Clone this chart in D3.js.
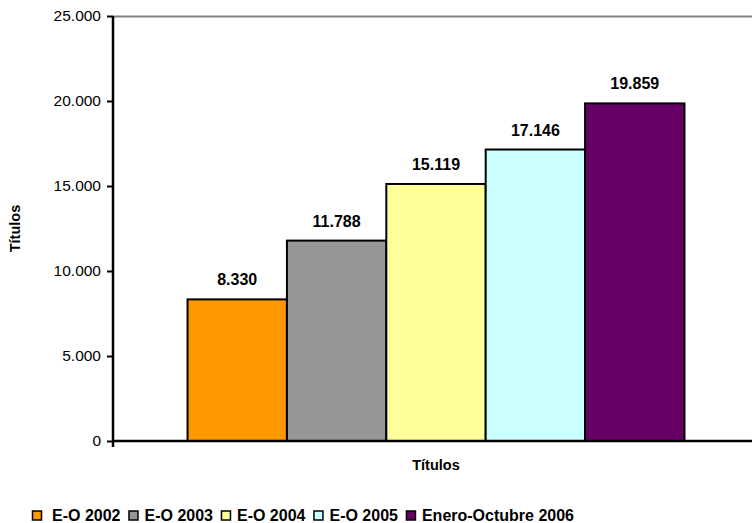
<!DOCTYPE html>
<html>
<head>
<meta charset="utf-8">
<script src="https://cdn.jsdelivr.net/npm/d3@7"></script>
<style>
  html, body { margin: 0; padding: 0; background: #fff; }
  svg { display: block; font-family: Arial, "Liberation Sans", sans-serif; }
</style>
</head>
<body>
<svg id="chart" width="752" height="523"></svg>
<script>
// Titles issued, January–October of each year
const series = ["E-O 2002", "E-O 2003", "E-O 2004", "E-O 2005", "Enero-Octubre 2006"];
const values = [8330, 11788, 15119, 17146, 19859];
const colors = ["#FF9900", "#969696", "#FFFF99", "#CCFFFF", "#660066"];
const yTicks = [0, 5000, 10000, 15000, 20000, 25000];
const axisTitle = "Títulos";

const svg = d3.select("#chart");
const plot = { left: 113, right: 759, top: 16, bottom: 441 };

const esLocale = d3.formatLocale({ decimal: ",", thousands: ".", grouping: [3], currency: ["", " €"] });
const fmt = esLocale.format(",d");

const y = d3.scaleLinear().domain([0, 25000]).range([plot.bottom, plot.top]);
const x = d3.scaleBand().domain(series).range([plot.left, plot.right])
  .paddingInner(0).paddingOuter(0.75);

// plot-area frame (top edge visible in grey)
svg.append("line")
  .attr("x1", plot.left).attr("x2", plot.right)
  .attr("y1", plot.top + 0.5).attr("y2", plot.top + 0.5)
  .attr("stroke", "#808080").attr("stroke-width", 2);

// bars
svg.append("g").selectAll("rect")
  .data(series)
  .join("rect")
  .attr("x", d => x(d))
  .attr("y", (d, i) => y(values[i]))
  .attr("width", x.bandwidth())
  .attr("height", (d, i) => y(0) - y(values[i]))
  .attr("fill", (d, i) => colors[i])
  .attr("stroke", "#000")
  .attr("stroke-width", 2);

// value labels
svg.append("g").selectAll("text")
  .data(series)
  .join("text")
  .attr("x", d => x(d) + x.bandwidth() / 2)
  .attr("y", (d, i) => y(values[i]) - 14)
  .attr("text-anchor", "middle")
  .attr("font-weight", "bold")
  .attr("font-size", 16)
  .attr("fill", "#000")
  .text((d, i) => fmt(values[i]));

// y axis
const yAxis = svg.append("g")
  .attr("transform", `translate(${plot.left},0)`)
  .call(d3.axisLeft(y).tickValues(yTicks).tickFormat(fmt).tickSize(6).tickPadding(6));
yAxis.select(".domain").attr("stroke", "#000").attr("stroke-width", 2.5)
  .attr("d", `M0,${plot.top}V${plot.bottom + 6}`);
yAxis.selectAll(".tick line").attr("stroke", "#000").attr("stroke-width", 2);
yAxis.selectAll(".tick text").attr("font-size", 15.5).attr("fill", "#000")
  .attr("font-family", "Arial, 'Liberation Sans', sans-serif");

// x baseline
svg.append("line")
  .attr("x1", plot.left).attr("x2", plot.right)
  .attr("y1", plot.bottom).attr("y2", plot.bottom)
  .attr("stroke", "#000").attr("stroke-width", 2.5);

// axis titles
svg.append("text")
  .attr("transform", `translate(20,${(plot.top + plot.bottom) / 2}) rotate(-90)`)
  .attr("text-anchor", "middle")
  .attr("font-weight", "bold").attr("font-size", 14.5)
  .text(axisTitle);

svg.append("text")
  .attr("x", 436).attr("y", 470)
  .attr("text-anchor", "middle")
  .attr("font-weight", "bold").attr("font-size", 14.5)
  .text(axisTitle);

// legend: swatch, label, then next entry
const legend = svg.append("g");
let lx = 32;
series.forEach((s, i) => {
  legend.append("rect")
    .attr("x", lx + 0.5).attr("y", 511)
    .attr("width", 9).attr("height", 9)
    .attr("fill", colors[i]).attr("stroke", "#000").attr("stroke-width", 1.5);
  const tx = lx + (i === 0 ? 20 : 16);
  const t = legend.append("text")
    .attr("x", tx).attr("y", 520.5)
    .attr("font-weight", "bold").attr("font-size", 16)
    .text(s);
  lx = tx + t.node().getComputedTextLength() + 8;
});
</script>
</body>
</html>
